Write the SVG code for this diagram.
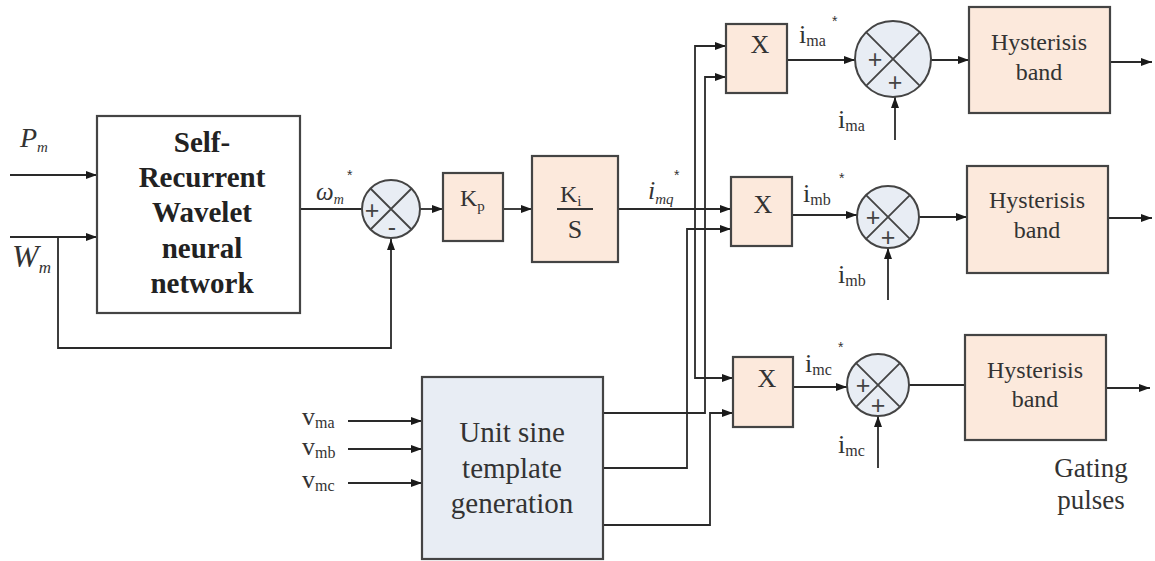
<svg xmlns="http://www.w3.org/2000/svg" width="1155" height="561" viewBox="0 0 1155 561">
<defs>
<marker id="arr" markerUnits="userSpaceOnUse" markerWidth="11" markerHeight="8" refX="11" refY="4" orient="auto">
<path d="M0,0 L11,4 L0,8 z" fill="#1a1a1a"/>
</marker>
</defs>
<style>
.box{stroke:#444;stroke-width:2.2;}
.peach{fill:#fce9dc;}
.white{fill:#fff;}
.blue{fill:#e8edf4;}
.sum{fill:#e8edf4;stroke:#444;stroke-width:2;}
.x{stroke:#444;stroke-width:1.8;fill:none;}
.w{fill:none;stroke:#2a2a2a;stroke-width:1.8;}
.a{marker-end:url(#arr);}
text{font-family:"Liberation Serif","Times New Roman",serif;fill:#333;}
.bold{font-weight:bold;font-size:29px;fill:#222;text-anchor:middle;}
.mid{text-anchor:middle;}
.it{font-style:italic;}
.sg{font-family:"Liberation Sans",Arial,sans-serif;font-size:25px;fill:#444;text-anchor:middle;}
.star{font-family:"Liberation Sans",Arial,sans-serif;font-size:14px;fill:#333;}
</style>

<g id="connectors">
<path class="w a" d="M10,175 H97"/>
<path class="w a" d="M10,237 H97"/>
<path class="w a" d="M58,237 V348 H391 V239"/>
<path class="w" d="M300,209 H362"/>
<path class="w a" d="M420,209 H443"/>
<path class="w a" d="M503,209 H532"/>
<path class="w a" d="M618,209 H731"/>
<path class="w a" d="M695,209 V46 H726"/>
<path class="w a" d="M695,209 V378 H733"/>
<path class="w a" d="M603,413 H705 V77 H726"/>
<path class="w a" d="M603,468 H687 V229 H731"/>
<path class="w a" d="M603,525 H710 V413 H733"/>
<path class="w a" d="M787,60 H855"/>
<path class="w a" d="M931,60 H969"/>
<path class="w a" d="M895,140 V97"/>
<path class="w a" d="M1110,62 H1152"/>
<path class="w a" d="M792,215 H857"/>
<path class="w a" d="M919,217 H967"/>
<path class="w a" d="M888,300 V248"/>
<path class="w a" d="M1108,218 H1152"/>
<path class="w a" d="M793,387 H847"/>
<path class="w" d="M909,385 H965"/>
<path class="w a" d="M878,468 V416"/>
<path class="w a" d="M1106,388 H1150"/>
<path class="w a" d="M348,421 H422"/>
<path class="w a" d="M348,449 H422"/>
<path class="w a" d="M348,483 H422"/>
</g>

<g id="input-labels">
<text x="20" y="147" class="it" font-size="28">P<tspan font-size="15" dy="5">m</tspan></text>
<text x="12" y="267" class="it" font-size="32">W<tspan font-size="17" dy="6">m</tspan></text>
</g>

<g id="srwnn">
<rect class="box white" x="97" y="116" width="203" height="197"/>
<text class="bold" x="202" y="152">Self-</text>
<text class="bold" x="202" y="187">Recurrent</text>
<text class="bold" x="202" y="222">Wavelet</text>
<text class="bold" x="202" y="258">neural</text>
<text class="bold" x="202" y="293">network</text>
</g>

<g id="omega-label">
<text x="316" y="200" class="it" font-size="25">ω<tspan font-size="14" dy="4">m</tspan></text>
<text x="347" y="180" class="star">*</text>
</g>

<g id="sum0">
<circle class="sum" cx="391" cy="209" r="29"/>
<path class="x" d="M370.5,188.5 L411.5,229.5 M411.5,188.5 L370.5,229.5"/>
<text class="sg" x="372" y="219">+</text>
<text class="sg" x="392" y="236" font-size="26">-</text>
</g>

<g id="kp">
<rect class="box peach" x="443" y="173" width="60" height="68"/>
<text x="460" y="206" font-size="24">K<tspan font-size="15" dy="5">p</tspan></text>
</g>

<g id="kis">
<rect class="box peach" x="532" y="156" width="86" height="106"/>
<text x="560" y="202" font-size="24">K<tspan font-size="15" dy="4">i</tspan></text>
<path d="M557,209 H593" stroke="#333" stroke-width="2"/>
<text x="575" y="238" font-size="26" class="mid">S</text>
</g>

<g id="imq-label">
<text x="648" y="199" class="it" font-size="26">i<tspan font-size="15" dy="5">mq</tspan></text>
<text x="674" y="180" class="star">*</text>
</g>

<g id="mult-a">
<rect class="box peach" x="726" y="24" width="61" height="69"/>
<text x="760" y="53" font-size="26" class="mid">X</text>
</g>
<g id="mult-b">
<rect class="box peach" x="731" y="177" width="61" height="69"/>
<text x="763" y="213" font-size="26" class="mid">X</text>
</g>
<g id="mult-c">
<rect class="box peach" x="733" y="357" width="60" height="70"/>
<text x="767" y="387" font-size="26" class="mid">X</text>
</g>

<g id="ref-labels">
<text x="799" y="43" font-size="26">i<tspan font-size="16" dy="3">ma</tspan></text>
<text x="832" y="26" class="star">*</text>
<text x="803" y="202" font-size="26">i<tspan font-size="16" dy="3">mb</tspan></text>
<text x="839" y="183" class="star">*</text>
<text x="805" y="372" font-size="26">i<tspan font-size="16" dy="3">mc</tspan></text>
<text x="838" y="352" class="star">*</text>
</g>

<g id="sum-a">
<circle class="sum" cx="893" cy="59" r="38"/>
<path class="x" d="M866.1,32.1 L919.9,85.9 M919.9,32.1 L866.1,85.9"/>
<text class="sg" x="875" y="68" font-size="28">+</text>
<text class="sg" x="895" y="91" font-size="28">+</text>
</g>
<g id="sum-b">
<circle class="sum" cx="888" cy="217" r="31"/>
<path class="x" d="M866.1,195.1 L909.9,238.9 M909.9,195.1 L866.1,238.9"/>
<text class="sg" x="873" y="226">+</text>
<text class="sg" x="888" y="246">+</text>
</g>
<g id="sum-c">
<circle class="sum" cx="878" cy="385" r="31"/>
<path class="x" d="M856.1,363.1 L899.9,406.9 M899.9,363.1 L856.1,406.9"/>
<text class="sg" x="863" y="394">+</text>
<text class="sg" x="878" y="414">+</text>
</g>

<g id="meas-labels">
<text x="838" y="128" font-size="26">i<tspan font-size="16" dy="3">ma</tspan></text>
<text x="838" y="283" font-size="26">i<tspan font-size="16" dy="3">mb</tspan></text>
<text x="838" y="453" font-size="26">i<tspan font-size="16" dy="3">mc</tspan></text>
</g>

<g id="hyst-a">
<rect class="box peach" x="969" y="7" width="141" height="106"/>
<text x="1039" y="50" font-size="24" class="mid">Hysterisis</text>
<text x="1039" y="80" font-size="24" class="mid">band</text>
</g>
<g id="hyst-b">
<rect class="box peach" x="967" y="166" width="141" height="107"/>
<text x="1037" y="208" font-size="24" class="mid">Hysterisis</text>
<text x="1037" y="238" font-size="24" class="mid">band</text>
</g>
<g id="hyst-c">
<rect class="box peach" x="965" y="335" width="141" height="105"/>
<text x="1035" y="378" font-size="24" class="mid">Hysterisis</text>
<text x="1035" y="407" font-size="24" class="mid">band</text>
</g>

<g id="gating-label">
<text x="1091" y="477" font-size="27" class="mid">Gating</text>
<text x="1091" y="509" font-size="27" class="mid">pulses</text>
</g>

<g id="v-labels">
<text x="302" y="425" font-size="26">v<tspan font-size="16" dy="3">ma</tspan></text>
<text x="302" y="455" font-size="26">v<tspan font-size="16" dy="3">mb</tspan></text>
<text x="302" y="488" font-size="26">v<tspan font-size="16" dy="3">mc</tspan></text>
</g>

<g id="unit-sine">
<rect class="box blue" x="422" y="377" width="181" height="182"/>
<text x="512" y="442" font-size="29" class="mid">Unit sine</text>
<text x="512" y="478" font-size="29" class="mid">template</text>
<text x="512" y="513" font-size="29" class="mid">generation</text>
</g>
</svg>
